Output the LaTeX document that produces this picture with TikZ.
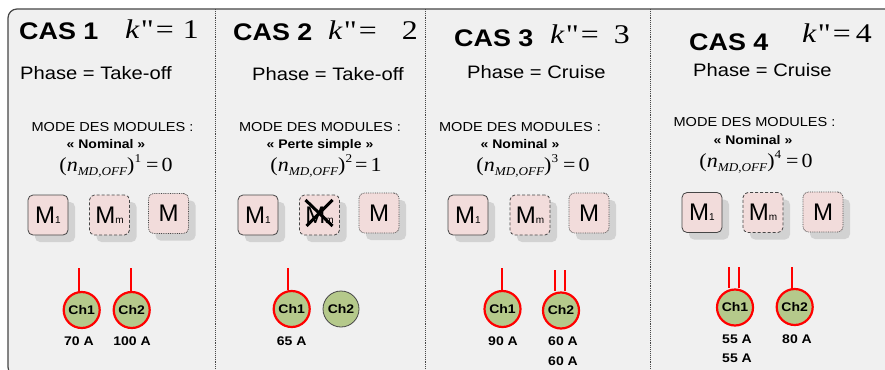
\documentclass[tikz,border=0pt]{standalone}
\usepackage{fontspec}
\setmainfont{Liberation Sans}[FakeStretch=1.12]
\newfontfamily\tms{Liberation Serif}[FakeStretch=1.1]
\newfontfamily\ktms{Liberation Serif}[FakeStretch=1.18]
\newfontfamily\msans{Liberation Sans}
\usetikzlibrary{shadows}
\definecolor{bgc}{RGB}{240,240,240}
\definecolor{framec}{RGB}{70,70,70}
\definecolor{modfill}{RGB}{242,220,219}
\definecolor{chfill}{RGB}{181,201,139}
\definecolor{shad}{RGB}{210,210,210}
\newcommand\fsz[1]{\fontsize{#1}{#1}\selectfont}
\newcommand\kline[2]{\textit{k}\hspace{1pt}"\hspace{2pt}=\hspace{#1}#2}
\newcommand\nmd[3]{(\textit{n}\raisebox{-4pt}{\fsz{12}\itshape MD,OFF})\raisebox{9pt}{\fsz{12}#1}\hspace{#3}=\hspace{3pt}#2}
\begin{document}
\begin{tikzpicture}[x=1pt,y=-1pt,
  cas/.style={anchor=base west, inner sep=0, font=\bfseries\fsz{24}},
  kq/.style={anchor=base west, inner sep=0, font=\ktms\fsz{27}},
  phase/.style={anchor=base west, inner sep=0, font=\fsz{18}},
  mode/.style={anchor=base, inner sep=0, font=\fsz{13}},
  modename/.style={anchor=base, inner sep=0, font=\bfseries\fsz{12.5}},
  formula/.style={anchor=base, inner sep=0, font=\tms\fsz{20}},
  module/.style={draw=framec, fill=modfill, rounded corners=5pt, line width=0.8pt,
     minimum width=40pt, minimum height=40pt, inner sep=0, font=\msans\fsz{24},
     drop shadow={shadow xshift=7pt, shadow yshift=-7pt, fill=shad, opacity=1}},
  modsolid/.style={module},
  moddash/.style={module, densely dashed},
  moddot/.style={module, densely dotted},
  ch/.style={circle, draw=red, line width=2.2pt, fill=chfill, minimum size=36pt,
     inner sep=0, font=\bfseries\fsz{12.5}},
  choff/.style={ch, draw=framec, line width=0.8pt},
  amp/.style={anchor=base, inner sep=0, font=\bfseries\fsz{12.5}},
  feed/.style={red, line width=1.8pt},
  divider/.style={framec, line width=0.9pt, densely dotted},
  cross/.style={black, line width=3pt}]
\useasboundingbox (0,0) rectangle (885,369);
\fill[white] (0,0) rectangle (885,369);
\clip (0,0) rectangle (885,369);
\draw[framec, fill=bgc, line width=1.2pt, rounded corners=9pt] (8,9) rectangle (905,376);
\draw[divider] (215,9) -- (215,369);
\draw[divider] (425,9) -- (425,369);
\draw[divider] (650,9) -- (650,369);

% ---------- CAS 1
\node[cas] (p1cas) at (19,40) {CAS 1};
\node[kq] (p1k) at (125,39) {\kline{9pt}{1}};
\node[phase] (p1ph) at (20,79) {Phase = Take-off};
\node[mode] (p1mode) at (112.5,131) {MODE DES MODULES :};
\node[modename] (p1nom) at (106,148) {« Nominal »};
\node[formula] (p1f) at (116,171) {\nmd{1}{0}{5pt}};
\node[modsolid] (p1m1) at (48,215) {M{\fsz{10}1}};
\node[moddash] (p1mm) at (109.5,215) {M{\fsz{10}m}};
\node[moddot] (p1m) at (168.5,213.5) {M};
\node[ch] (p1c1) at (81.7,310) {Ch1};
\node[ch] (p1c2) at (131.7,310) {Ch2};
\coordinate (p1t1) at (79,268);
\coordinate (p1t2) at (130.7,268);
\draw[feed] (p1t1) -- (p1t1 |- p1c1.north);
\draw[feed] (p1t2) -- (p1t2 |- p1c2.north);
\node[amp] (p1a1) at (79,345) {70 A};
\node[amp] (p1a2) at (132,345) {100 A};

% ---------- CAS 2
\node[cas] (p2cas) at (233,41) {CAS 2};
\node[kq] (p2k) at (328,40) {\kline{25pt}{2}};
\node[phase] (p2ph) at (252,80) {Phase = Take-off};
\node[mode] (p2mode) at (320,131) {MODE DES MODULES :};
\node[modename] (p2nom) at (320,148) {« Perte simple »};
\node[formula] (p2f) at (326,171) {\nmd{2}{1}{3pt}};
\node[modsolid] (p2m1) at (258,215) {M{\fsz{10}1}};
\node[moddash] (p2mm) at (319.5,215) {M{\fsz{10}m}};
\node[moddot] (p2m) at (379,213) {M};
\draw[cross] ([shift={(-14,-15)}]p2mm.center) -- ([shift={(13,11)}]p2mm.center);
\draw[cross] ([shift={(13,-15)}]p2mm.center) -- ([shift={(-13,11)}]p2mm.center);
\node[ch] (p2c1) at (291.7,309) {Ch1};
\node[choff] (p2c2) at (341,309) {Ch2};
\coordinate (p2t1) at (288,268);
\draw[feed] (p2t1) -- (p2t1 |- p2c1.north);
\node[amp] (p2a1) at (291.7,345) {65 A};

% ---------- CAS 3
\node[cas] (p3cas) at (454,47) {CAS 3};
\node[kq] (p3k) at (550,44) {\kline{15pt}{3}};
\node[phase] (p3ph) at (467,78) {Phase = Cruise};
\node[mode] (p3mode) at (520,131) {MODE DES MODULES :};
\node[modename] (p3nom) at (520,148) {« Nominal »};
\node[formula] (p3f) at (533,171) {\nmd{3}{0}{5pt}};
\node[modsolid] (p3m1) at (468,215) {M{\fsz{10}1}};
\node[moddash] (p3mm) at (530,215) {M{\fsz{10}m}};
\node[moddot] (p3m) at (589,213) {M};
\node[ch] (p3c1) at (502.5,309) {Ch1};
\node[ch] (p3c2) at (561,310.5) {Ch2};
\coordinate (p3t1) at (502,268);
\coordinate (p3t2) at (555,270);
\coordinate (p3t3) at (565,270);
\draw[feed] (p3t1) -- (p3t1 |- p3c1.north);
\draw[feed] (p3t2) -- (p3t2 |- p3c2.north);
\draw[feed] (p3t3) -- (p3t3 |- p3c2.north);
\node[amp] (p3a1) at (503,345) {90 A};
\node[amp] (p3a2) at (563,345) {60 A};
\node[amp] (p3a3) at (563,365) {60 A};

% ---------- CAS 4
\node[cas] (p4cas) at (689,50) {CAS 4};
\node[kq] (p4k) at (802,42) {\kline{5pt}{4}};
\node[phase] (p4ph) at (693,77) {Phase = Cruise};
\node[mode] (p4mode) at (754.5,126) {MODE DES MODULES :};
\node[modename] (p4nom) at (753,144) {« Nominal »};
\node[formula] (p4f) at (756,167) {\nmd{4}{0}{5pt}};
\node[modsolid] (p4m1) at (702,212.5) {M{\fsz{10}1}};
\node[moddash] (p4mm) at (763,212.5) {M{\fsz{10}m}};
\node[moddot] (p4m) at (823,212) {M};
\node[ch] (p4c1) at (735,307.5) {Ch1};
\node[ch] (p4c2) at (794.7,307) {Ch2};
\coordinate (p4t1) at (729,267);
\coordinate (p4t2) at (739,267);
\coordinate (p4t3) at (792,267);
\draw[feed] (p4t1) -- (p4t1 |- p4c1.north);
\draw[feed] (p4t2) -- (p4t2 |- p4c1.north);
\draw[feed] (p4t3) -- (p4t3 |- p4c2.north);
\node[amp] (p4a1) at (737,343) {55 A};
\node[amp] (p4a2) at (737,362) {55 A};
\node[amp] (p4a3) at (797,343) {80 A};
\end{tikzpicture}
\end{document}
